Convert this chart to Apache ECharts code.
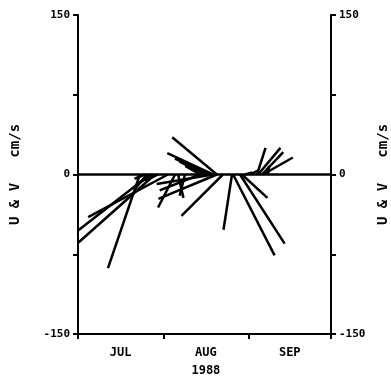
<!DOCTYPE html>
<html>
<head>
<meta charset="utf-8">
<script src="https://cdn.jsdelivr.net/npm/echarts@6/dist/echarts.min.js"></script>
<style>html,body{margin:0;padding:0;background:#fff}#c{width:391px;height:379px}</style>
</head>
<body>
<div id="c"></div>
<script>
// Days since 1 Jul 1988 of each current observation
var days = [26.2, 28.0, 32.7, 22.5, 25.1, 26.9, 29.1, 35.3, 36.4, 38.9, 44.4, 49.1, 50.5, 52.7,
            50.5, 49.1, 48.0, 46.2, 44.4, 56.0, 56.4, 58.9, 59.6, 65.1, 65.5, 66.9, 67.3, 69.1, 62.5, 60.7, 24.4];
// East (U) component, cm/s
var uVals = [-68, -72, -75, -30, -11, -13, -12, -16, 5, -5, -38, -53, -55, -39,
             -42, -43, -33, -24, -14, -8, 39, 42, 24, 8, 21, 20, 28, 1, 8, 7, -10];
// North (V) component, cm/s
var vVals = [-53, -64, -40, -88, -13, -9, -6, -31, -22, -20, -15, -9, -23, -39,
             35, 20, 15, 12, 8, -52, -76, -65, -22, 25, 25, 21, 16, 8, 4, 2, -4];
// Month boundaries (days since 1 Jul) and label positions
var monthTicks = [0, 31, 62, 92];
var monthCenters = [15.5, 46.5, 77];
var monthLabels = ['JUL', 'AUG\n1988', 'SEP'];
var yTickLabels = {'150': '150', '0': '0', '-150': '-150'};

var sticks = days.map(function (d, i) { return [d, uVals[i], vVals[i]]; });

var font = {fontFamily: 'DejaVu Sans Mono', fontWeight: 'bold', fontSize: 11, color: '#000'};
function yAxisCfg(pos, gap) {
  return {
    type: 'value', position: pos, min: -150, max: 150, interval: 75,
    name: 'U & V   cm/s', nameLocation: 'middle', nameRotate: 90, nameGap: gap,
    nameTextStyle: {fontFamily: 'DejaVu Sans Mono', fontWeight: 'bold', fontSize: 14, color: '#000'},
    axisLine: {show: true, lineStyle: {color: '#000', width: 2}},
    axisTick: {show: true, length: 5, lineStyle: {color: '#000', width: 2}},
    axisLabel: Object.assign({margin: 8, formatter: function (v) { return yTickLabels[String(v)] || ''; }}, font),
    splitLine: {show: false}
  };
}

var chart = echarts.init(document.getElementById('c'), null, {renderer: 'canvas'});
chart.setOption({
  animation: false,
  backgroundColor: '#fff',
  grid: {left: 78, right: 60, top: 15, bottom: 45, containLabel: false, outerBoundsMode: 'none'},
  xAxis: {
    type: 'value', min: 0, max: 92,
    axisLine: {show: true, onZero: false, lineStyle: {color: '#000', width: 2}},
    axisTick: {show: true, length: 5, customValues: monthTicks, lineStyle: {color: '#000', width: 2}},
    axisLabel: Object.assign({margin: 10, fontSize: 12, lineHeight: 18, customValues: monthCenters,
      formatter: function (v) { var i = monthCenters.indexOf(v); return i >= 0 ? monthLabels[i] : ''; }}, {fontFamily: 'DejaVu Sans Mono', fontWeight: 'bold', color: '#000'}),
    splitLine: {show: false}
  },
  yAxis: [yAxisCfg('left', 56), yAxisCfg('right', 44)],
  series: [
    {
      type: 'line', data: [[0, 0], [92, 0]], symbol: 'none',
      lineStyle: {color: '#000', width: 2.5}, z: 3
    },
    {
      type: 'custom', data: sticks, z: 4,
      renderItem: function (params, api) {
        var t = api.value(0), u = api.value(1), v = api.value(2);
        var p0 = api.coord([t, 0]);
        var p1 = api.coord([t, v]);
        var s = api.size([1, 1]);
        return {
          type: 'line',
          shape: {x1: p0[0], y1: p0[1], x2: p0[0] + u * s[1], y2: p1[1]},
          style: {stroke: '#000', lineWidth: 2.5}
        };
      }
    }
  ]
});
</script>
</body>
</html>
